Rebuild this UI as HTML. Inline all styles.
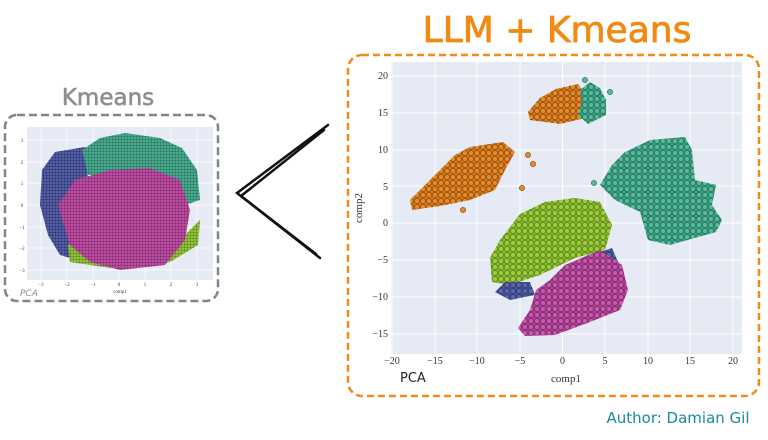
<!DOCTYPE html>
<html><head><meta charset="utf-8"><style>
body{margin:0;background:#fff;width:768px;height:435px;overflow:hidden;font-family:"Liberation Serif",serif}
</style></head><body>
<svg width="768" height="435" viewBox="0 0 768 435" xmlns="http://www.w3.org/2000/svg">
<defs>
<pattern id="po" width="6" height="6" patternUnits="userSpaceOnUse"><rect width="6" height="6" fill="#d97a1e"/><circle cx="3" cy="3" r="2.6" fill="#ec8a22" stroke="#6a3a10" stroke-width="0.6"/></pattern>
<pattern id="pt" width="6" height="6" patternUnits="userSpaceOnUse"><rect width="6" height="6" fill="#3f9f86"/><circle cx="3" cy="3" r="2.6" fill="#52bd9c" stroke="#205a4a" stroke-width="0.6"/></pattern>
<pattern id="pl" width="6" height="6" patternUnits="userSpaceOnUse"><rect width="6" height="6" fill="#86b82e"/><circle cx="3" cy="3" r="2.6" fill="#9cce3a" stroke="#4a6a18" stroke-width="0.6"/></pattern>
<pattern id="pm" width="6" height="6" patternUnits="userSpaceOnUse"><rect width="6" height="6" fill="#b04498"/><circle cx="3" cy="3" r="2.6" fill="#cc55b0" stroke="#5a2050" stroke-width="0.6"/></pattern>
<pattern id="pb" width="6" height="6" patternUnits="userSpaceOnUse"><rect width="6" height="6" fill="#4a559a"/><circle cx="3" cy="3" r="2.6" fill="#5a67b0" stroke="#222a55" stroke-width="0.6"/></pattern>
<pattern id="sm" width="3" height="3" patternUnits="userSpaceOnUse"><rect width="3" height="3" fill="#c04ea6"/><circle cx="1.5" cy="1.5" r="1" fill="#7a2a66"/></pattern>
<pattern id="st" width="3" height="3" patternUnits="userSpaceOnUse"><rect width="3" height="3" fill="#4aae92"/><circle cx="1.5" cy="1.5" r="1" fill="#2a6e5a"/></pattern>
<pattern id="sb" width="3" height="3" patternUnits="userSpaceOnUse"><rect width="3" height="3" fill="#5560a8"/><circle cx="1.5" cy="1.5" r="1" fill="#2a3066"/></pattern>
<pattern id="sl" width="3" height="3" patternUnits="userSpaceOnUse"><rect width="3" height="3" fill="#96c83a"/><circle cx="1.5" cy="1.5" r="1" fill="#5a7a20"/></pattern>
</defs>

<text x="108" y="105" text-anchor="middle" font-family="'DejaVu Sans',sans-serif" font-size="23" fill="#8a8f94" stroke="#8a8f94" stroke-width="0.6">Kmeans</text>
<rect x="5" y="115" width="213" height="186" rx="12" fill="none" stroke="#80868b" stroke-width="2.5" stroke-dasharray="8,4"/>
<rect x="27" y="127" width="186" height="153" fill="#e5eaf5"/>
<g stroke="#fff" stroke-width="0.7">
<line x1="41" y1="127" x2="41" y2="280"/><line x1="67" y1="127" x2="67" y2="280"/><line x1="93" y1="127" x2="93" y2="280"/><line x1="119" y1="127" x2="119" y2="280"/><line x1="145" y1="127" x2="145" y2="280"/><line x1="171" y1="127" x2="171" y2="280"/><line x1="197" y1="127" x2="197" y2="280"/>
<line x1="27" y1="140" x2="213" y2="140"/><line x1="27" y1="162" x2="213" y2="162"/><line x1="27" y1="183" x2="213" y2="183"/><line x1="27" y1="205" x2="213" y2="205"/><line x1="27" y1="227" x2="213" y2="227"/><line x1="27" y1="248" x2="213" y2="248"/><line x1="27" y1="270" x2="213" y2="270"/>
</g>
<polygon points="42,170 55,152 85,147 90,200 85,245 70,258 60,255 48,235 40,205" fill="url(#sb)"/>
<polygon points="82,150 100,138 125,133 160,138 182,148 197,170 200,200 170,210 120,175 88,175" fill="url(#st)"/>
<polygon points="68,245 80,238 130,250 180,240 200,220 198,245 170,262 110,268 70,262" fill="url(#sl)"/>
<polygon points="58,205 75,180 110,170 150,168 180,180 190,210 185,240 165,265 120,270 90,262 70,245" fill="url(#sm)"/>
<g font-size="5" fill="#444" text-anchor="middle">
<text x="41" y="286">−3</text><text x="67" y="286">−2</text><text x="93" y="286">−1</text><text x="119" y="286">0</text><text x="145" y="286">1</text><text x="171" y="286">2</text><text x="197" y="286">3</text>
<text x="22" y="142">3</text><text x="22" y="164">2</text><text x="22" y="185">1</text><text x="22" y="207">0</text><text x="22" y="229">−1</text><text x="22" y="250">−2</text><text x="22" y="272">−3</text>
<text x="120" y="293">comp1</text>
</g>
<text x="20" y="296" font-family="'DejaVu Sans',sans-serif" font-size="9" fill="#8a8f94" font-style="italic">PCA</text>

<g stroke="#111" stroke-width="2.5" fill="none" stroke-linecap="round">
<polyline points="328,125 237,193 320,258"/>
<polyline points="324,130 241,196 316,254"/>
</g>

<text x="557" y="42" text-anchor="middle" font-family="'DejaVu Sans',sans-serif" font-size="36" fill="#f08a10" stroke="#f08a10" stroke-width="0.8">LLM + Kmeans</text>
<rect x="348" y="55" width="411" height="341" rx="14" fill="none" stroke="#f08a1a" stroke-width="2.5" stroke-dasharray="7,4"/>
<rect x="391" y="62" width="351" height="292" fill="#e5eaf5"/>
<g stroke="#fff" stroke-width="1">
<line x1="392" y1="62" x2="392" y2="354"/><line x1="435" y1="62" x2="435" y2="354"/><line x1="477" y1="62" x2="477" y2="354"/><line x1="520" y1="62" x2="520" y2="354"/><line x1="562.5" y1="62" x2="562.5" y2="354"/><line x1="605" y1="62" x2="605" y2="354"/><line x1="648" y1="62" x2="648" y2="354"/><line x1="690" y1="62" x2="690" y2="354"/><line x1="733" y1="62" x2="733" y2="354"/>
<line x1="391" y1="76" x2="742" y2="76"/><line x1="391" y1="113" x2="742" y2="113"/><line x1="391" y1="150" x2="742" y2="150"/><line x1="391" y1="186" x2="742" y2="186"/><line x1="391" y1="223" x2="742" y2="223"/><line x1="391" y1="260" x2="742" y2="260"/><line x1="391" y1="297" x2="742" y2="297"/><line x1="391" y1="334" x2="742" y2="334"/>
</g>
<polygon points="528,112 540,98 556,89 578,84 584,92 585,118 560,124 530,120" fill="url(#po)"/>
<polygon points="580,90 590,82 600,88 606,100 606,115 588,124 578,115 582,100" fill="url(#pt)"/>
<polygon points="410,200 430,180 455,155 470,147 503,142 515,152 505,170 495,190 470,200 440,206 412,210" fill="url(#po)"/>
<polygon points="600,185 612,165 625,152 650,140 685,137 692,150 695,180 716,185 712,205 722,220 716,232 670,245 648,240 640,212 615,200" fill="url(#pt)"/>
<polygon points="490,258 500,240 520,214 545,202 575,198 600,202 612,225 605,250 575,258 540,275 510,285 492,282" fill="url(#pl)"/>
<polygon points="495,292 505,282 530,282 535,295 510,300" fill="url(#pb)"/>
<polygon points="600,252 612,248 618,262 605,270" fill="url(#pb)"/>
<polygon points="518,328 530,310 536,290 550,280 565,265 600,250 622,265 628,290 620,310 590,322 555,335 525,336" fill="url(#pm)"/>
<g fill="#ec8a22" stroke="#6a3a10" stroke-width="0.6"><circle cx="528" cy="155" r="2.6"/><circle cx="533" cy="164" r="2.6"/><circle cx="522" cy="188" r="2.6"/><circle cx="463" cy="210" r="2.6"/></g>
<g fill="#52bd9c" stroke="#205a4a" stroke-width="0.6"><circle cx="610" cy="92" r="2.6"/><circle cx="585" cy="80" r="2.6"/><circle cx="594" cy="183" r="2.6"/></g>
<g font-size="10" fill="#333" text-anchor="middle">
<text x="392" y="364">−20</text><text x="435" y="364">−15</text><text x="477" y="364">−10</text><text x="520" y="364">−5</text><text x="562.5" y="364">0</text><text x="605" y="364">5</text><text x="648" y="364">10</text><text x="690" y="364">15</text><text x="733" y="364">20</text>
</g>
<g font-size="10" fill="#333" text-anchor="end">
<text x="388" y="79">20</text><text x="388" y="116">15</text><text x="388" y="153">10</text><text x="388" y="190">5</text><text x="388" y="226">0</text><text x="388" y="263">−5</text><text x="388" y="300">−10</text><text x="388" y="337">−15</text>
</g>
<text x="566" y="382" font-size="11" fill="#333" text-anchor="middle">comp1</text>
<text x="0" y="0" font-size="11" fill="#333" text-anchor="middle" transform="translate(362,208) rotate(-90)">comp2</text>
<text x="400" y="382" font-family="'DejaVu Sans',sans-serif" font-size="13" fill="#222">PCA</text>
<text x="678" y="423" text-anchor="middle" font-family="'DejaVu Sans',sans-serif" font-size="15" fill="#1a8a9a">Author: Damian Gil</text>
</svg>
</body></html>
